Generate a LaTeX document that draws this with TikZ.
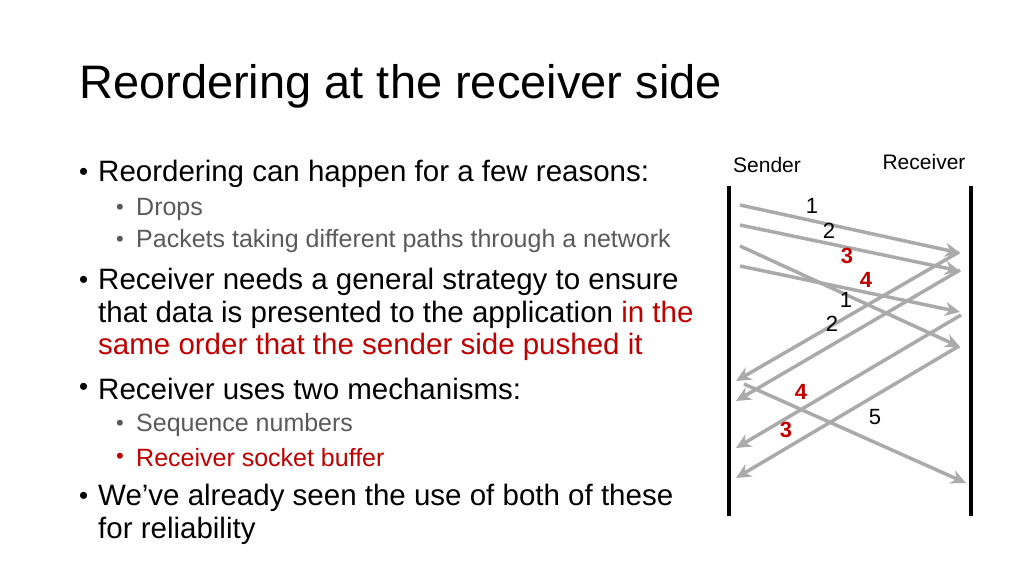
\documentclass[tikz,border=0pt]{standalone}
\usepackage{fontspec}
\usetikzlibrary{arrows.meta}
\setmainfont{Liberation Sans}
\definecolor{myred}{RGB}{192,0,0}
\definecolor{arr}{RGB}{170,170,170}
\definecolor{subg}{RGB}{90,90,90}
\begin{document}
\begin{tikzpicture}[x=1pt,y=-1pt,
  t/.style={anchor=west,inner sep=0pt,font=\fontsize{29.5}{34}\selectfont},
  s/.style={anchor=west,inner sep=0pt,font=\fontsize{25}{30}\selectfont,text=subg},
  bul/.style={anchor=west,inner sep=0pt,font=\fontsize{26}{30}\selectfont},
  sbul/.style={anchor=west,inner sep=0pt,font=\fontsize{22}{26}\selectfont,text=subg},
  lab/.style={inner sep=0pt,font=\fontsize{22}{26}\selectfont},
  rlab/.style={lab,text=myred,font=\fontsize{22}{26}\selectfont\bfseries},
  msg/.style={draw=arr,line width=3.5pt,-{Stealth[length=15pt,width=14pt]}},
  tl/.style={line width=4pt}]
\useasboundingbox (0,0) rectangle (1024,576);
\node[anchor=west,inner sep=0pt,font=\fontsize{47}{54}\selectfont] (title) at (79,86) {Reordering at the receiver side};
\node[bul] (d1) at (79,174) {•}; \node[t] (b1) at (98,174) {Reordering can happen for a few reasons:};
\node[sbul] (d2) at (116,209) {•}; \node[s] (s1) at (136,209) {Drops};
\node[sbul] (d3) at (116,241) {•}; \node[s] (s2) at (136,241) {Packets taking different paths through a network};
\node[bul] (d4) at (79,282) {•}; \node[t] (b2) at (98,282) {Receiver needs a general strategy to ensure};
\node[t] (b2b) at (98,315) {that data is presented to the application \textcolor{myred}{in the}};
\node[t,text=myred] (b2c) at (98,347) {same order that the sender side pushed it};
\node[bul] (d5) at (79,389) {•}; \node[t] (b3) at (98,389) {Receiver uses two mechanisms:};
\node[sbul] (d6) at (116,425) {•}; \node[s] (s3) at (136,425) {Sequence numbers};
\node[sbul,text=myred] (d7) at (116,458) {•}; \node[s,text=myred] (s4) at (136,458) {Receiver socket buffer};
\node[bul] (d8) at (79,498) {•}; \node[t] (b4) at (98,498) {We’ve already seen the use of both of these};
\node[t] (b4b) at (98,531) {for reliability};
% timelines
\node[lab,font=\fontsize{21}{24}\selectfont] (snd) at (767,165) {Sender};
\node[lab,font=\fontsize{21}{24}\selectfont] (rcv) at (924,162) {Receiver};
\coordinate (st) at (729,186); \coordinate (sb) at (729,516);
\coordinate (rt) at (971,186); \coordinate (rb) at (971,516);
\draw[tl] (st) -- (sb);
\draw[tl] (rt) -- (rb);
% forward
\coordinate (f1s) at (740,205); \coordinate (f1e) at (960,253);
\coordinate (f2s) at (740,225); \coordinate (f2e) at (960,271);
\coordinate (f3s) at (740,246); \coordinate (f3e) at (960,347);
\coordinate (f4s) at (740,266); \coordinate (f4e) at (960,312);
\draw[msg] (f1s) -- (f1e);
\draw[msg] (f2s) -- (f2e);
\draw[msg] (f3s) -- (f3e);
\draw[msg] (f4s) -- (f4e);
% back
\coordinate (r1s) at (959,252); \coordinate (r1e) at (736,381);
\coordinate (r2s) at (960,270); \coordinate (r2e) at (736,401);
\coordinate (r3s) at (961,315); \coordinate (r3e) at (736,448);
\coordinate (r4s) at (959,346); \coordinate (r4e) at (736,478);
\draw[msg] (r1s) -- (r1e);
\draw[msg] (r2s) -- (r2e);
\draw[msg] (r3s) -- (r3e);
\draw[msg] (r4s) -- (r4e);
\coordinate (f5s) at (744,384); \coordinate (f5e) at (966,483);
\draw[msg] (f5s) -- (f5e);
% labels
\node[lab] (l1) at (812,206) {1};
\node[lab] (l2) at (829,231) {2};
\node[rlab] (l3) at (847,256) {3};
\node[rlab] (l4) at (866,280) {4};
\node[lab] (l1b) at (846,300) {1};
\node[lab] (l2b) at (832,324) {2};
\node[rlab] (l4b) at (801,392) {4};
\node[lab] (l5) at (875,417) {5};
\node[rlab] (l3b) at (786,430) {3};
\end{tikzpicture}
\end{document}
